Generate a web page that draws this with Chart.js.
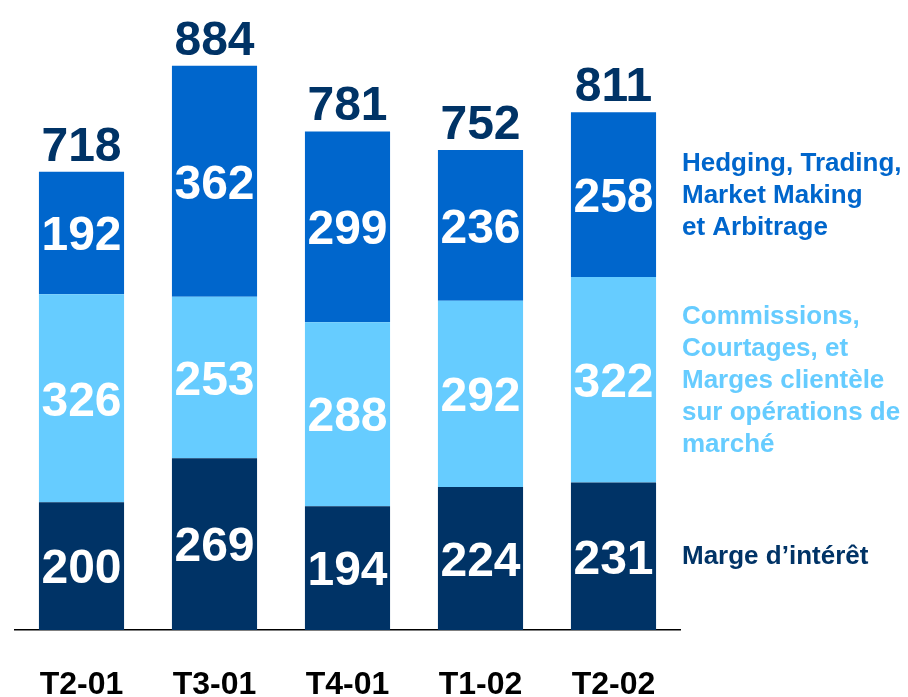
<!DOCTYPE html>
<html>
<head>
<meta charset="utf-8">
<script src="https://cdn.jsdelivr.net/npm/chart.js@4/dist/chart.umd.min.js"></script>
<style>
body{margin:0;background:#fff;}
</style>
</head>
<body>
<canvas id="chart" width="908" height="697"></canvas>
<script>

/* DATA */

const categories = ["T2-01","T3-01","T4-01","T1-02","T2-02"];
const margeInteret = [200,269,194,224,231];
const commissions = [326,253,288,292,322];
const hedging = [192,362,299,236,258];
const totals = [718,884,781,752,811];

const legendLines = [
["Marge d\u2019intérêt"],
["Commissions,","Courtages, et","Marges clientèle","sur opérations de","marché"],
["Hedging, Trading,","Market Making","et Arbitrage"]
];

const colors = ["#003366","#66CCFF","#0066CC"];

const FONT = "'Liberation Sans', Arial, sans-serif";


/* LABELS PLUGIN */

const labelPlugin = {
id:"labels",
afterDatasetsDraw(chart){

let ctx = chart.ctx;
ctx.save();
ctx.textAlign = "center";

// values inside segments
chart.data.datasets.forEach((ds,i)=>{
let meta = chart.getDatasetMeta(i);
meta.data.forEach((el,j)=>{
ctx.fillStyle = "#ffffff";
ctx.font = "bold 48px " + FONT;
ctx.textBaseline = "middle";
ctx.fillText(ds.data[j], el.x, (el.y + el.base)/2 + 4);
});
});

// totals on top
let topMeta = chart.getDatasetMeta(chart.data.datasets.length-1);
topMeta.data.forEach((el,j)=>{
ctx.fillStyle = "#003366";
ctx.font = "bold 48px " + FONT;
ctx.textBaseline = "alphabetic";
ctx.fillText(totals[j], el.x, el.y - 11);
});

// legend text next to last bar
ctx.textAlign = "left";
ctx.textBaseline = "alphabetic";
ctx.font = "bold 26px " + FONT;
let last = categories.length-1;
legendLines.forEach((lines,i)=>{
let el = chart.getDatasetMeta(i).data[last];
let center = (el.y + el.base)/2;
let first = center - (lines.length-1)/2*32 + 8;
ctx.fillStyle = colors[i];
lines.forEach((t,k)=>{
ctx.fillText(t, 682, first + k*32);
});
});

ctx.restore();

}
};


/* CHART */

let ctx = document.getElementById("chart").getContext("2d");

new Chart(ctx,{

type:"bar",

data:{
labels:categories,
datasets:[
{label:"Marge d\u2019intérêt",data:margeInteret,backgroundColor:colors[0]},
{label:"Commissions",data:commissions,backgroundColor:colors[1]},
{label:"Hedging",data:hedging,backgroundColor:colors[2]}
]
},

options:{
responsive:false,
animation:false,
devicePixelRatio:1,
layout:{padding:{left:15,right:228,top:30,bottom:0}},
plugins:{legend:{display:false},tooltip:{enabled:false}},
datasets:{bar:{barPercentage:0.64,categoryPercentage:1}},
scales:{
x:{
stacked:true,
grid:{display:false,drawTicks:false},
border:{display:true,color:"#000000",width:1.5},
ticks:{color:"#000000",font:{family:FONT,size:32,weight:"bold"},padding:36},
afterFit(scale){ scale.height = 67; }
},
y:{
stacked:true,
display:false,
min:0,
max:940
}
}
},

plugins:[labelPlugin]

});

</script>
</body>
</html>
